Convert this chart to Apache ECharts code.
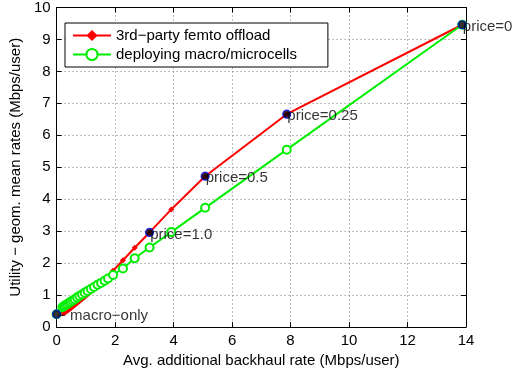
<!DOCTYPE html>
<html>
<head>
<meta charset="utf-8">
<script src="https://cdn.jsdelivr.net/npm/echarts@6/dist/echarts.min.js"></script>
<style>html,body{margin:0;padding:0;background:#fff}#c{width:526px;height:376px}</style>
</head>
<body>
<div id="c"></div>
<script>
// Data
var backhaul = [0, 0.2, 0.25, 0.3, 0.36, 0.42, 0.48, 0.55, 0.62, 0.7, 0.78, 0.87, 0.96, 1.06, 1.17, 1.28, 1.4, 1.52, 1.64, 1.76, 1.93, 2.27, 2.67, 3.18, 3.92, 5.08, 7.87, 13.87];
var femtoUtility = [0.40, 0.42, 0.44, 0.46, 0.50, 0.54, 0.58, 0.63, 0.68, 0.74, 0.80, 0.87, 0.94, 1.02, 1.10, 1.19, 1.28, 1.37, 1.47, 1.57, 1.76, 2.09, 2.48, 2.96, 3.68, 4.72, 6.66, 9.46];
var macroUtility = [0.40, 0.62, 0.65, 0.68, 0.71, 0.75, 0.79, 0.83, 0.87, 0.92, 0.97, 1.02, 1.07, 1.13, 1.19, 1.25, 1.32, 1.38, 1.45, 1.52, 1.63, 1.83, 2.15, 2.49, 2.97, 3.73, 5.55, 9.46];
var priceX = [0, 3.18, 5.08, 7.87, 13.87];
var priceY = [0.40, 2.96, 4.72, 6.66, 9.46];
var priceLabels = ['\u2212 macro\u2212only', 'price=1.0', 'price=0.5', 'price=0.25', 'price=0'];
var seriesNames = ['3rd\u2212party femto offload', 'deploying macro/microcells'];
var xTitle = 'Avg. additional backhaul rate (Mbps/user)';
var yTitle = 'Utility \u2212 geom. mean rates (Mbps/user)';

function pairs(xs, ys) { return xs.map(function (x, i) { return [x, ys[i]]; }); }

var FONT = 'Liberation Sans, Arial, sans-serif';
var chart = echarts.init(document.getElementById('c'), null, { renderer: 'canvas' });
var gridLine = { show: true, lineStyle: { color: '#777', type: [1, 3], width: 1 } };
var axisLine = { show: true, onZero: false, lineStyle: { color: '#000', width: 1 } };
var tick = { show: true, inside: true, length: 5, lineStyle: { color: '#000' } };

chart.setOption({
  animation: false,
  backgroundColor: '#fff',
  textStyle: { fontFamily: FONT },
  grid: { left: 55, right: 60, top: 7, bottom: 49, containLabel: false },
  legend: {
    data: seriesNames,
    orient: 'vertical',
    left: 65, top: 23,
    itemWidth: 38, itemHeight: 14, itemGap: 4,
    padding: [5, 31, 5, 7],
    borderColor: '#000', borderWidth: 1,
    backgroundColor: '#fff',
    textStyle: { fontSize: 15, color: '#000', fontFamily: FONT }
  },
  xAxis: [{
    type: 'value', min: 0, max: 14, interval: 2,
    name: xTitle, nameLocation: 'middle', nameGap: 24,
    nameTextStyle: { fontSize: 15, color: '#000', fontFamily: FONT },
    axisLine: axisLine, axisTick: tick, splitLine: gridLine,
    axisLabel: { fontSize: 15, color: '#000', margin: 6, fontFamily: FONT }
  }, {
    type: 'value', min: 0, max: 14, interval: 2, position: 'top',
    axisLine: axisLine, axisTick: tick, splitLine: { show: false },
    axisLabel: { show: false }
  }],
  yAxis: [{
    type: 'value', min: 0, max: 10, interval: 1,
    name: yTitle, nameLocation: 'middle', nameGap: 21,
    nameTextStyle: { fontSize: 15, color: '#000', fontFamily: FONT },
    axisLine: axisLine, axisTick: tick, splitLine: gridLine,
    axisLabel: { fontSize: 15, color: '#000', margin: 6, fontFamily: FONT }
  }, {
    type: 'value', min: 0, max: 10, interval: 1, position: 'right',
    axisLine: axisLine, axisTick: tick, splitLine: { show: false },
    axisLabel: { show: false }
  }],
  series: [{
    name: seriesNames[0], type: 'line',
    data: pairs(backhaul, femtoUtility),
    showAllSymbol: true,
    symbol: 'diamond', symbolSize: 6,
    itemStyle: { color: '#ff0000' },
    lineStyle: { color: '#ff0000', width: 2 },
    z: 2
  }, {
    name: seriesNames[1], type: 'line',
    data: pairs(backhaul, macroUtility),
    showAllSymbol: true,
    symbol: 'emptyCircle', symbolSize: 8,
    itemStyle: { color: '#00ee00', borderWidth: 1.5 },
    lineStyle: { color: '#00ee00', width: 2 },
    z: 3
  }, {
    name: 'price', type: 'scatter',
    data: priceX.map(function (x, i) { return { value: [x, priceY[i]], name: priceLabels[i] }; }),
    symbol: 'circle', symbolSize: 8,
    itemStyle: { color: '#000', borderColor: '#0000ff', borderWidth: 1.2 },
    label: {
      show: true, position: 'right', distance: -4, offset: [0, 2],
      formatter: function (p) { return p.name; },
      fontSize: 15, color: '#000', fontFamily: FONT
    },
    z: 5
  }]
});
</script>
</body>
</html>
